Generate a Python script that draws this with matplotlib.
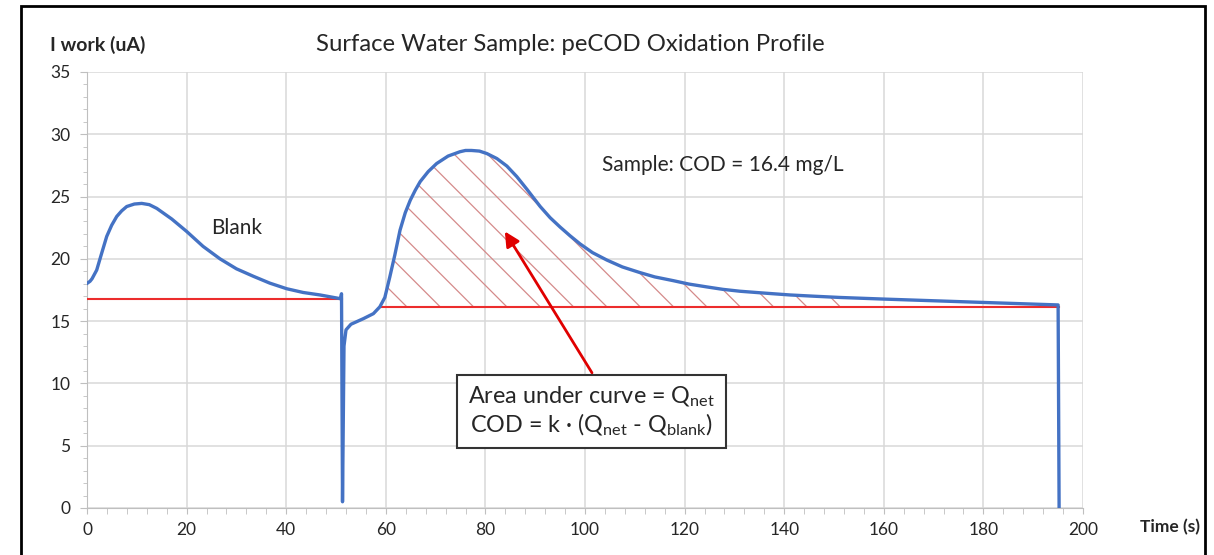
"""
pecod_profile.py - peCOD oxidation profile of a surface water sample

Working-electrode current vs time: blank run, then sample run with the
net charge (area above the baseline) hatched.
"""

import matplotlib.pyplot as plt
from matplotlib.patches import Rectangle
from matplotlib.ticker import MultipleLocator
import numpy as np

plt.rcParams['font.family'] = ['Lato', 'DejaVu Sans']
plt.rcParams['mathtext.fontset'] = 'custom'
plt.rcParams['mathtext.rm'] = 'Lato'
plt.rcParams['mathtext.it'] = 'Lato:italic'
plt.rcParams['hatch.linewidth'] = 0.9

# current trace (time s, current uA)
time_s = [0, 0.6, 1.0, 1.94, 2.9, 3.95, 4.95, 5.96, 6.95, 7.97, 9.5, 10.98,
          12.5, 14.0, 17.0, 20.0, 23.3, 26.7, 30.0, 33.4, 36.7, 40.1, 43.4,
          46.8, 50.9, 51.1, 51.3, 51.6, 52.0, 53.0, 55.5, 57.5, 58.8, 59.8,
          60.8, 61.8, 62.85, 63.9, 64.9, 65.9, 66.9, 68.5, 70.2, 72.5, 74.9,
          76.0, 77.2, 78.8, 80.3, 82.3, 84.3, 86.3, 88.3, 91.0, 93.0, 95.0,
          97.0, 99.0, 101.5, 104.4, 107.5, 111.0, 114.0, 117.7, 120.8, 124.4,
          127.7, 131.1, 136.0, 141.2, 146.0, 151.2, 160.0, 180.0, 195.0,
          195.2]
current_ua = [18.03, 18.2, 18.4, 19.1, 20.4, 21.8, 22.7, 23.4, 23.85, 24.2,
              24.4, 24.45, 24.35, 24.05, 23.2, 22.2, 21.0, 20.0, 19.2, 18.6,
              18.05, 17.6, 17.3, 17.1, 16.8, 17.2, 0.5, 13.0, 14.3, 14.75,
              15.2, 15.6, 16.15, 16.9, 18.55, 20.3, 22.3, 23.7, 24.7, 25.5,
              26.2, 27.0, 27.65, 28.25, 28.6, 28.7, 28.7, 28.65, 28.45, 28.05,
              27.45, 26.6, 25.6, 24.2, 23.3, 22.55, 21.85, 21.2, 20.5, 19.9,
              19.35, 18.9, 18.55, 18.25, 17.98, 17.75, 17.55, 17.4, 17.25,
              17.1, 17.0, 16.9, 16.77, 16.5, 16.3, 0.0]

# baselines
blank_span = [0, 51.1]
blank_level = 16.8
sample_span = [58.8, 195.1]
sample_level = 16.15
hatch_end = 151.2

BLUE = '#4472c4'
RED = '#ec2d2d'
GRID = '#d9d9d9'
TEXT = '#262626'

fig = plt.figure(figsize=(12.14, 5.55), dpi=100, facecolor='white')
ax = fig.add_axes([0.0717, 0.0847, 0.8204, 0.7856])

t = np.array(time_s)
cur = np.array(current_ua)

# hatched net area
mask = (t >= sample_span[0]) & (t <= hatch_end)
ax.fill_between(t[mask], cur[mask], sample_level, facecolor='none',
                edgecolor='#d48a8a', hatch='\\', linewidth=0, zorder=2)

ax.plot(blank_span, [blank_level] * 2, color=RED, lw=1.5, zorder=3)
ax.plot(sample_span, [sample_level] * 2, color=RED, lw=1.5, zorder=3)
ax.plot(t, cur, color=BLUE, lw=2.4, zorder=4, solid_joinstyle='round')

ax.set_xlim(0, 200)
ax.set_ylim(0, 35)
ax.xaxis.set_major_locator(MultipleLocator(20))
ax.xaxis.set_minor_locator(MultipleLocator(4))
ax.yaxis.set_major_locator(MultipleLocator(5))
ax.yaxis.set_minor_locator(MultipleLocator(1))
ax.grid(True, which='major', color=GRID, lw=1.1, zorder=0)
ax.set_axisbelow(True)
for side in ['top', 'right']:
    ax.spines[side].set_visible(False)
for side in ['left', 'bottom']:
    ax.spines[side].set_color('#bfbfbf')
ax.tick_params(which='both', color='#bfbfbf', labelcolor=TEXT, labelsize=12.5)
ax.tick_params(axis='y', which='major', length=5, pad=7)
ax.tick_params(axis='y', which='minor', length=3)
ax.tick_params(axis='x', which='both', length=4, pad=6)

# annotations
ax.text(25.0, 22.5, 'Blank', fontsize=15, color=TEXT, va='center')
ax.text(103.5, 27.5, 'Sample: COD = 16.4 mg/L', fontsize=15, color=TEXT,
        va='center')
box_txt = ('Area under curve = Q$_{\\mathrm{net}}$\n'
           'COD = k \u00b7 (Q$_{\\mathrm{net}}$ - Q$_{\\mathrm{blank}}$)')
ax.text(101.3, 7.75, box_txt, fontsize=16.8, color=TEXT, ha='center',
        va='center', linespacing=1.12, zorder=6,
        bbox=dict(boxstyle='square,pad=0.45', fc='white', ec='#333333',
                  lw=1.5))
ax.annotate('', xy=(83.9, 22.2), xytext=(101.4, 10.85),
            arrowprops=dict(arrowstyle='-|>', color='#e00000', lw=2,
                            mutation_scale=22, shrinkA=0, shrinkB=0),
            zorder=5)

fig.text(0.4695, 0.919, 'Surface Water Sample: peCOD Oxidation Profile',
         fontsize=17.2, color=TEXT, ha='center', va='center')
fig.text(0.0412, 0.919, 'I work (uA)', fontsize=14, fontweight='bold',
         color=TEXT, ha='left', va='center')
fig.text(0.939, 0.0505, 'Time (s)', fontsize=12.5, fontweight='bold',
         color=TEXT, ha='left', va='center')

# outer frame of the original slide
fig.patches.append(Rectangle((21 / 1214, -0.05), (1205 - 21) / 1214,
                             1.05 - 6 / 555, transform=fig.transFigure,
                             fill=False, ec='black', lw=2))

plt.savefig('out.png', dpi=100, facecolor='white')
plt.close()
